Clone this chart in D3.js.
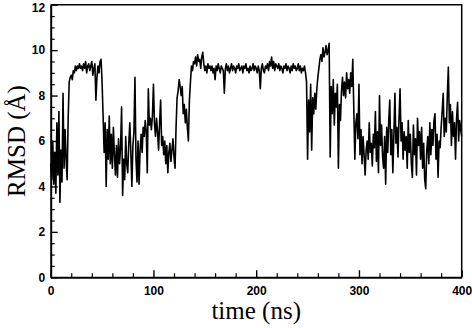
<!DOCTYPE html>
<html>
<head>
<meta charset="utf-8">
<script src="https://cdn.jsdelivr.net/npm/d3@7"></script>
<style>
  html, body { margin: 0; padding: 0; background: #fff; }
  svg { display: block; }
</style>
</head>
<body>
<svg id="chart" width="472" height="328"></svg>
<script>
// RMSD (Å) sampled every 1 ns, 0..400 ns
const rmsd = [
  5.0, 4.3, 6.0, 4.1, 5.5, 3.7, 6.8, 4.5, 7.3, 3.3,
  5.6, 4.2, 8.1, 4.8, 6.5, 5.2, 4.3, 7.0, 8.6, 8.8,
  8.9, 8.7, 9.1, 9.0, 9.3, 9.1, 9.3, 9.2, 9.4, 9.2,
  9.3, 9.1, 9.4, 9.2, 9.5, 9.0, 9.3, 9.4, 9.1, 9.3,
  9.5, 8.9, 9.2, 9.4, 7.8, 8.8, 9.3, 9.0, 9.5, 9.6,
  8.6, 7.1, 5.5, 6.8, 4.0, 6.5, 5.2, 7.1, 5.0, 6.3,
  4.8, 6.6, 5.4, 4.5, 5.8, 4.4, 6.1, 5.0, 5.7, 7.5,
  3.6, 5.2, 4.3, 6.2, 5.0, 4.6, 5.9, 6.8, 5.5, 4.0,
  5.8, 6.4, 8.8, 5.2, 4.2, 6.0, 4.1, 5.6, 6.3, 5.5,
  6.6, 6.2, 6.9, 6.4, 4.6, 8.3, 6.7, 7.0, 6.5, 7.1,
  8.5, 6.8, 6.2, 7.0, 6.4, 5.6, 6.8, 7.8, 5.8, 6.2,
  5.4, 6.0, 5.0, 5.8, 4.6, 5.5, 5.9, 5.1, 5.6, 6.1,
  5.3, 4.8, 6.6, 7.9, 8.2, 8.7, 8.4, 8.0, 8.4, 7.2,
  7.6, 6.8, 7.4, 6.6, 6.0, 7.8, 8.6, 9.3, 9.1, 9.5,
  9.4, 9.7, 9.3, 9.8, 9.5, 9.6, 9.2, 9.7, 9.9, 9.4,
  9.1, 9.3, 9.0, 9.4, 9.2, 9.3, 9.1, 9.3, 9.0, 9.2,
  8.7, 9.3, 9.1, 9.4, 9.2, 9.0, 9.3, 9.2, 9.1, 8.1,
  9.2, 9.4, 9.1, 9.3, 9.0, 9.2, 9.4, 9.1, 9.3, 9.2,
  9.0, 9.3, 9.2, 9.4, 9.1, 9.2, 9.3, 9.0, 9.3, 9.2,
  9.4, 9.1, 9.2, 9.0, 9.3, 9.1, 9.2, 9.4, 9.1, 9.3,
  9.2, 9.0, 9.3, 9.1, 8.3, 9.2, 9.4, 9.1, 9.0, 9.3,
  9.2, 9.4, 9.1, 9.5, 9.3, 9.7, 9.2, 9.5, 9.1, 9.4,
  9.3, 9.2, 9.4, 9.1, 9.3, 9.2, 9.0, 9.3, 9.2, 9.4,
  9.1, 9.3, 9.2, 9.0, 9.3, 9.1, 9.4, 9.2, 9.3, 9.1,
  9.2, 9.4, 9.1, 9.3, 9.0, 9.2, 9.1, 9.3, 9.0, 8.6,
  5.2, 7.8, 6.4, 8.5, 5.6, 7.9, 7.2, 8.1, 7.4, 8.3,
  8.8, 9.2, 9.6, 9.8, 9.5, 10.1, 9.7, 9.9, 10.2, 9.8,
  10.0, 10.3, 5.3, 8.4, 7.2, 8.7, 6.7, 8.1, 7.5, 8.5,
  4.8, 7.6, 6.9, 8.2, 8.8, 8.0, 8.6, 7.9, 9.0, 8.3,
  8.7, 8.1, 9.0, 8.4, 9.6, 7.4, 5.2, 6.8, 7.2, 6.1,
  8.5, 5.4, 6.5, 5.0, 6.2, 5.4, 4.5, 5.6, 6.0, 5.2,
  6.8, 5.5, 5.9, 4.9, 6.3, 5.7, 7.3, 5.1, 6.4, 4.6,
  8.0, 5.8, 6.7, 5.3, 4.8, 6.2, 4.1, 6.6, 5.5, 6.9,
  7.8, 5.4, 6.5, 4.6, 6.3, 8.1, 5.9, 6.6, 5.3, 7.0,
  8.3, 6.0, 6.8, 5.2, 6.4, 5.6, 6.2, 4.8, 6.9, 5.5,
  6.3, 5.0, 4.4, 6.7, 5.4, 6.1, 4.5, 7.0, 5.8, 6.4,
  5.2, 6.6, 4.8, 5.9, 4.3, 3.9, 5.6, 6.2, 5.0, 6.8,
  5.4, 6.5, 5.8, 6.9, 7.2, 5.2, 6.3, 4.4, 6.0, 5.7,
  6.6, 7.3, 8.1, 6.2, 7.0, 6.4, 8.0, 9.25, 6.8, 7.6,
  5.8, 7.3, 6.2, 6.8, 5.2, 7.0, 7.7, 6.0, 6.9, 6.5,
  6.2
];
const timeNs = rmsd.map((v, i) => i);

const xMajorTicks = [0, 100, 200, 300, 400];
const xMinorTicks = [20, 40, 60, 80, 120, 140, 160, 180, 220, 240, 260, 280, 320, 340, 360, 380];
const yMajorTicks = [0, 2, 4, 6, 8, 10, 12];
const yMinorTicks = [0.5, 1, 1.5, 2.5, 3, 3.5, 4.5, 5, 5.5, 6.5, 7, 7.5, 8.5, 9, 9.5, 10.5, 11, 11.5];

const xTitle = "time (ns)";
const yTitle = "RMSD (Å)";

const svg = d3.select("#chart");
const mLeft = 50.7, mRight = 461.7, mTop = 4.7, mBottom = 277.3;

const x = d3.scaleLinear().domain([0, 400]).range([mLeft, mRight]);
const y = d3.scaleLinear().domain([0, 12]).range([mBottom, mTop]);

const tickFont = "'Liberation Sans', Arial, Helvetica, sans-serif";
const titleFont = "'Liberation Serif', 'Times New Roman', Times, serif";

// data line
const line = d3.line().x((d, i) => x(timeNs[i])).y(d => y(d));
svg.append("path")
  .datum(rmsd)
  .attr("d", line)
  .attr("fill", "none")
  .attr("stroke", "#000")
  .attr("stroke-width", 1.6)
  .attr("stroke-linejoin", "round");

// minor ticks
svg.append("g")
  .attr("transform", `translate(0,${mBottom})`)
  .call(d3.axisBottom(x).tickValues(xMinorTicks).tickSize(-4).tickFormat(""))
  .call(g => g.select(".domain").remove())
  .call(g => g.selectAll("line").attr("stroke-width", 1.2));
svg.append("g")
  .attr("transform", `translate(${mLeft},0)`)
  .call(d3.axisLeft(y).tickValues(yMinorTicks).tickSize(-4).tickFormat(""))
  .call(g => g.select(".domain").remove())
  .call(g => g.selectAll("line").attr("stroke-width", 1.2));

// major axes
const xAxis = svg.append("g")
  .attr("transform", `translate(0,${mBottom})`)
  .call(d3.axisBottom(x).tickValues(xMajorTicks).tickSizeInner(-7).tickSizeOuter(0).tickPadding(9.3).tickFormat(d3.format("d")));
const yAxis = svg.append("g")
  .attr("transform", `translate(${mLeft},0)`)
  .call(d3.axisLeft(y).tickValues(yMajorTicks).tickSizeInner(-7).tickSizeOuter(0).tickPadding(5.5).tickFormat(d3.format("d")));

[xAxis, yAxis].forEach(g => {
  g.select(".domain").attr("stroke-width", 2);
  g.selectAll(".tick line").attr("stroke-width", 1.4);
  g.selectAll("text")
    .attr("font-family", tickFont)
    .attr("font-weight", "bold")
    .attr("font-size", 12)
    .attr("fill", "#000");
});
// top label sits a little lower so it stays inside the picture
yAxis.selectAll(".tick").filter(d => d === 12).select("text").attr("dy", "0.32em").attr("y", 3);

// top and right frame
const frame = d3.path();
frame.moveTo(mLeft, mTop);
frame.lineTo(mRight, mTop);
frame.lineTo(mRight, mBottom);
svg.append("path")
  .attr("d", frame.toString())
  .attr("fill", "none")
  .attr("stroke", "#000")
  .attr("stroke-width", 1.5);

// titles
svg.append("text")
  .attr("x", (mLeft + mRight) / 2)
  .attr("y", 319)
  .attr("text-anchor", "middle")
  .attr("font-family", titleFont)
  .attr("font-size", 25)
  .attr("fill", "#000")
  .text(xTitle);

svg.append("text")
  .attr("transform", `translate(25,${(mTop + mBottom) / 2}) rotate(-90)`)
  .attr("text-anchor", "middle")
  .attr("font-family", titleFont)
  .attr("font-size", 25)
  .attr("fill", "#000")
  .text(yTitle);
</script>
</body>
</html>
